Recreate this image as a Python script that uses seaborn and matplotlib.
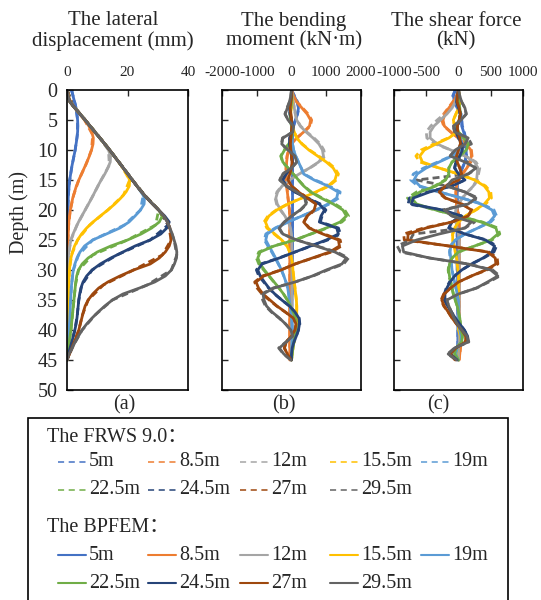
import matplotlib
matplotlib.use("Agg")
import matplotlib.pyplot as plt
from matplotlib.lines import Line2D
from matplotlib.patches import Rectangle
import seaborn as sns

# excavation depth of each case and the Excel colours used for it
cases = ["5m", "8.5m", "12m", "15.5m", "19m", "22.5m", "24.5m", "27m", "29.5m"]
colors = ["#4472C4", "#ED7D31", "#A5A5A5", "#FFC000", "#5B9BD5",
          "#70AD47", "#264478", "#9E480E", "#636363"]

# ---- BPFEM (solid), read every 1 m of depth ----
depth = list(range(0, 46))

# lateral displacement (mm)
disp_5 = [1.5, 2.0, 2.5, 3.0, 3.3, 3.5, 3.6, 3.5, 3.3, 3.0,
          2.7, 2.3, 1.9, 1.5, 1.2, 0.9, 0.7, 0.5, 0.4, 0.3,
          0.3, 0.2, 0.2, 0.2, 0.2, 0.1, 0.1, 0.1, 0.1, 0.1,
          0.1, 0.1, 0.1, 0.1, 0.1, 0.1, 0.1, 0.1, 0.1, 0.1,
          0.1, 0.1, 0.0, 0.0, 0.0, 0.0]
disp_8_5 = [0.0, 0.5, 1.2, 2.6, 4.2, 5.8, 7.2, 8.2, 8.7, 8.6,
            8.1, 7.4, 6.6, 5.7, 4.8, 3.9, 3.1, 2.5, 1.9, 1.5,
            1.1, 0.8, 0.6, 0.5, 0.4, 0.3, 0.3, 0.2, 0.2, 0.2,
            0.1, 0.1, 0.1, 0.1, 0.1, 0.1, 0.1, 0.1, 0.1, 0.0,
            0.0, 0.0, 0.0, 0.0, 0.0, 0.0]
disp_12 = [0.0, 0.3, 1.0, 2.6, 4.3, 6.0, 7.6, 9.2, 10.9, 12.4,
           13.7, 14.4, 14.3, 13.5, 12.5, 11.3, 10.2, 9.2, 8.2, 7.1,
           6.0, 4.9, 3.8, 2.9, 2.0, 1.3, 0.9, 0.6, 0.4, 0.3,
           0.2, 0.2, 0.1, 0.1, 0.1, 0.1, 0.1, 0.1, 0.1, 0.1,
           0.1, 0.0, 0.0, 0.0, 0.0, 0.0]
disp_15_5 = [0.0, 0.3, 1.0, 2.6, 4.3, 6.0, 7.6, 9.2, 10.9, 12.5,
             14.1, 15.6, 17.1, 18.5, 19.8, 20.7, 20.6, 19.5, 17.8, 15.8,
             13.5, 11.0, 8.6, 6.5, 4.8, 3.5, 2.5, 1.8, 1.3, 1.0,
             0.8, 0.7, 0.6, 0.5, 0.5, 0.4, 0.4, 0.3, 0.3, 0.3,
             0.2, 0.2, 0.1, 0.1, 0.0, 0.0]
disp_19 = [0.0, 0.3, 1.0, 2.6, 4.3, 6.0, 7.6, 9.2, 10.9, 12.5,
           14.1, 15.6, 17.1, 18.6, 20.1, 21.6, 23.1, 24.6, 25.6, 25.5,
           24.3, 22.5, 20.5, 17.5, 13.0, 8.5, 5.8, 4.3, 3.3, 2.6,
           2.1, 1.8, 1.6, 1.4, 1.3, 1.2, 1.1, 1.0, 0.9, 0.8,
           0.7, 0.5, 0.4, 0.2, 0.1, 0.0]
disp_22_5 = [0.0, 0.3, 1.0, 2.6, 4.3, 6.0, 7.6, 9.2, 10.9, 12.5,
             14.1, 15.6, 17.1, 18.6, 20.1, 21.6, 23.1, 24.7, 26.4, 28.3,
             30.3, 31.5, 30.5, 28.0, 24.5, 20.0, 14.5, 10.0, 7.0, 5.0,
             3.8, 3.2, 2.9, 2.7, 2.5, 2.3, 2.1, 1.9, 1.7, 1.5,
             1.3, 1.0, 0.7, 0.4, 0.2, 0.0]
disp_24_5 = [0.0, 0.3, 1.0, 2.6, 4.3, 6.0, 7.6, 9.2, 10.9, 12.5,
             14.1, 15.6, 17.1, 18.6, 20.1, 21.6, 23.1, 24.7, 26.4, 28.3,
             30.3, 32.3, 33.8, 33.0, 31.0, 27.5, 22.5, 18.5, 14.5, 11.0,
             8.3, 6.5, 5.3, 4.6, 4.2, 3.9, 3.7, 3.5, 3.3, 3.0,
             2.6, 2.1, 1.6, 1.0, 0.5, 0.0]
disp_27 = [0.0, 0.3, 1.0, 2.6, 4.3, 6.0, 7.6, 9.2, 10.9, 12.5,
           14.1, 15.6, 17.1, 18.6, 20.1, 21.6, 23.1, 24.7, 26.4, 28.3,
           30.3, 32.0, 33.2, 34.0, 34.5, 34.4, 33.8, 32.5, 30.5, 27.5,
           22.0, 17.5, 13.5, 10.5, 8.5, 7.0, 6.0, 5.4, 4.9, 4.4,
           3.9, 3.2, 2.4, 1.6, 0.8, 0.0]
disp_29_5 = [0.0, 0.3, 1.0, 2.6, 4.3, 6.0, 7.6, 9.2, 10.9, 12.5,
             14.1, 15.6, 17.1, 18.6, 20.1, 21.6, 23.1, 24.7, 26.4, 28.3,
             30.3, 32.0, 33.2, 34.0, 34.8, 35.4, 36.0, 36.3, 36.2, 35.5,
             34.5, 32.5, 29.0, 24.0, 18.5, 15.0, 12.5, 10.3, 8.3, 6.5,
             5.0, 3.8, 2.7, 1.7, 0.7, 0.0]

# bending moment (kN·m)
bm_5 = [0, 80, 160, 200, 170, 110, 60, 40, 30, 30,
        30, 30, 30, 30, 30, 30, 30, 30, 30, 30,
        30, 30, 30, 30, 30, 30, 30, 20, 20, 20,
        20, 20, 20, 20, 20, 10, 10, 10, 10, 10,
        10, 10, 0, 0, 0, 0]
bm_8_5 = [0, 60, 150, 300, 450, 550, 520, 350, 150, 0,
          -80, -120, -140, -150, -150, -140, -130, -120, -100, -80,
          -60, -50, -50, -50, -50, -50, -50, -50, -50, -50,
          -50, -50, -50, -50, -50, -50, -50, -50, -50, -50,
          -50, -50, -50, -50, -50, -50]
bm_12 = [0, 20, 50, 80, 110, 150, 250, 420, 620, 790,
         890, 920, 780, 520, 220, -60, -270, -400, -450, -410,
         -310, -190, -90, -30, 0, 10, 10, 10, 10, 10,
         10, 10, 10, 10, 10, 10, 10, 10, 10, 10,
         10, 0, 0, 0, 0, 0]
bm_15_5 = [0, 10, 20, 0, -30, -20, 20, 80, 150, 300,
           500, 750, 1000, 1200, 1300, 1250, 1050, 700, 300, -100,
           -420, -650, -750, -680, -480, -280, -130, -50, 0, 30,
           40, 60, 80, 100, 120, 140, 150, 150, 150, 140,
           120, 100, 70, 40, 20, 0]
bm_19 = [0, 10, 0, -30, -40, -20, 0, 10, 20, 30,
         60, 120, 200, 280, 350, 650, 1050, 1340, 1300, 1050,
         700, 300, -100, -450, -700, -740, -650, -550, -460, -370,
         -290, -220, -160, -110, -80, -60, -40, -20, 0, 10,
         20, 20, 20, 10, 10, 0]
bm_22_5 = [0, 10, 0, -20, -40, -30, 0, 20, 0, -80,
           -200, -300, -250, -100, 50, 200, 350, 550, 850, 1200,
           1480, 1580, 1400, 1000, 550, 100, -500, -900, -970, -900,
           -780, -640, -500, -360, -230, -120, -30, 50, 110, 140,
           130, 100, 70, 40, 20, 0]
bm_24_5 = [0, 0, -30, -60, -40, 0, 30, 0, -50, -60,
           -30, 0, 30, 0, -150, -250, -150, 100, 450, 800,
           950, 850, 800, 1300, 1350, 1000, 550, 100, -350, -850,
           -970, -900, -780, -650, -480, -280, -60, 100, 210, 230,
           200, 140, 70, 20, 0, 0]
bm_27 = [0, 0, -20, -40, -20, 0, 10, 0, -20, -30,
         -20, 0, 20, 0, -50, -100, 0, 200, 450, 700,
         650, 450, 350, 500, 900, 1350, 1380, 1100, 600, 100,
         -300, -800, -1020, -950, -820, -620, -420, -180, 50, 130,
         100, 0, -150, -200, -120, -10]
bm_29_5 = [0, -20, -60, -120, -180, -100, 60, 40, -250, -280,
           -100, 100, 150, 0, -250, -330, -150, 150, 380, 420,
           250, 0, -200, -350, -250, 150, 700, 1250, 1580, 1450,
           1000, 600, 100, -500, -820, -790, -720, -560, -350, -170,
           -20, 40, -150, -350, -220, -20]

# shear force (kN)
sf_5 = [-50, -80, -60, -20, 30, 50, 50, 80, 100, 110,
        120, 120, 100, 60, 20, 0, -20, -20, -20, -20,
        -20, -20, -20, -20, -20, -20, -20, -20, -20, -20,
        -20, -10, -10, -10, -10, -10, -10, -10, -10, -10,
        -10, -10, -10, -10, -10, 0]
sf_8_5 = [0, -30, -80, -150, -210, -240, -220, -120, 0, 120,
          190, 200, 180, 130, 60, 0, -30, -40, -40, -30,
          -20, 10, 10, 10, 10, 10, 10, 10, 10, 10,
          10, 10, 10, 10, 10, 10, 10, 10, 10, 10,
          20, 30, 40, 30, 20, 10]
sf_12 = [0, -20, -50, -100, -180, -280, -380, -440, -440, -330,
         -120, 100, 250, 300, 290, 280, 230, 140, 60, 0,
         -40, -50, -40, -20, 0, 10, 10, 10, 10, 10,
         10, 10, 10, 10, 10, 10, 10, 10, 10, 10,
         10, 10, 10, 0, 0, 0]
sf_15_5 = [0, 10, 20, 0, -40, -80, -60, -20, -150, -350,
           -530, -600, -560, -300, 0, 250, 400, 470, 480, 400,
           260, 110, 0, -60, -90, -90, -70, -50, -30, -20,
           -10, 0, 0, 0, 0, 0, 0, 0, 0, 0,
           0, 30, 40, -20, -30, 0]
sf_19 = [0, -20, -30, 0, 40, 20, -30, -20, 30, 60,
         20, -100, -300, -500, -640, -690, -600, -300, 50, 350,
         520, 560, 480, 300, 100, -50, -120, -130, -120, -110,
         -100, -80, -60, -40, -20, 0, 0, 0, 0, 0,
         20, 40, 40, -20, -40, 0]
sf_22_5 = [0, -10, 0, 20, 30, 10, -30, 0, 80, 150,
           120, 20, -100, -150, -150, -200, -350, -600, -730, -650,
           -350, 0, 350, 580, 610, 500, 250, 0, -100, -140,
           -150, -140, -120, -100, -80, -50, -20, 0, 20, 30,
           40, 60, 50, -40, -60, 0]
sf_24_5 = [0, -20, -30, 0, 30, 20, -20, -40, 0, 50,
           60, 20, -40, -60, 0, 100, -100, -450, -700, -730,
           -250, 50, -100, -150, 100, 420, 560, 520, 380, 200,
           50, -60, -130, -180, -210, -210, -170, -110, -50, 20,
           90, 140, 130, -50, -130, -20]
sf_27 = [0, -20, -20, 10, 30, 10, -20, -10, 20, 30,
         0, -30, -20, 20, 50, 0, -200, -300, -200, 50,
         200, 150, -100, -500, -780, -790, -150, 450, 570, 580,
         420, 200, 0, -120, -220, -260, -220, -160, -100, -30,
         50, 110, 110, -40, -130, -50]
sf_29_5 = [0, 20, 50, 100, 120, 40, -80, -60, 150, 100,
           -50, -130, 100, 270, 150, -100, -180, 100, 270, 150,
           -220, -100, 200, 100, -300, -650, -870, -850, -450, 150,
           500, 610, 450, 280, 0, -180, -150, -110, -70, -20,
           50, 130, 150, -60, -160, -30]

# ---- FRWS 9.0 (dashed) ----
# displacement read every 2.5 m, moment and shear every 1 m (same depths as BPFEM)
depth_frws = [0, 2.5, 5, 7.5, 10, 12.5, 15, 17.5, 20, 22.5,
              25, 27.5, 30, 32.5, 35, 37.5, 40, 42.5, 45]

frws_disp_5 = [1.5, 2.8, 3.5, 3.4, 2.7, 1.7, 0.9, 0.45, 0.3, 0.2, 0.1, 0.1, 0.1, 0.1, 0.1, 0.1, 0.1, 0.0, 0.0]
frws_disp_8_5 = [0.0, 1.9, 5.8, 8.5, 8.1, 6.2, 3.9, 2.2, 1.1, 0.55, 0.3, 0.2, 0.1, 0.1, 0.1, 0.1, 0.0, 0.0, 0.0]
frws_disp_12 = [0.0, 1.8, 6.0, 10.1, 13.7, 14.0, 11.3, 8.7, 6.0, 3.3, 1.3, 0.5, 0.2, 0.1, 0.1, 0.1, 0.0, 0.0, 0.0]
frws_disp_15_5 = [0.0, 1.8, 6.0, 10.1, 14.1, 17.8, 20.7, 18.7, 13.5, 7.5, 3.5, 1.5, 0.8, 0.55, 0.4, 0.3, 0.2, 0.1, 0.0]
frws_disp_19 = [0.0, 1.8, 6.0, 10.1, 14.1, 17.9, 21.6, 25.2, 24.3, 19.0, 8.5, 3.8, 2.1, 1.5, 1.2, 0.95, 0.7, 0.3, 0.0]
frws_disp_22_5 = [0.0, 1.8, 6.0, 10.1, 14.1, 17.9, 21.6, 25.6, 30.3, 29.3, 20.0, 8.5, 3.8, 2.8, 2.3, 1.8, 1.3, 0.55, 0.0]
frws_disp_24_5 = [0.0, 1.8, 6.0, 10.1, 14.1, 17.9, 21.6, 25.6, 30.3, 33.4, 27.5, 16.5, 8.3, 4.9, 3.9, 3.4, 2.6, 1.3, 0.0]
frws_disp_27 = [0.0, 1.8, 6.0, 10.1, 14.1, 17.9, 21.6, 25.6, 30.3, 33.6, 34.4, 31.5, 22.0, 12.0, 7.0, 5.1, 3.9, 2.0, 0.0]
frws_disp_29_5 = [0.0, 1.8, 6.0, 10.1, 14.1, 17.9, 21.6, 25.6, 30.3, 33.6, 35.4, 36.3, 34.5, 26.5, 15.0, 9.3, 5.0, 2.2, 0.0]

frws_bm_5 = [0, 90, 175, 210, 175, 110, 60, 40, 30, 30,
             30, 30, 30, 30, 30, 30, 30, 30, 30, 30,
             30, 30, 30, 30, 30, 30, 30, 20, 20, 20,
             20, 20, 20, 20, 20, 10, 10, 10, 10, 10,
             10, 10, 0, 0, 0, 0]
frws_bm_8_5 = [0, 60, 160, 320, 480, 580, 540, 360, 150, 0,
               -80, -130, -150, -160, -160, -150, -140, -120, -100, -80,
               -60, -50, -50, -50, -50, -50, -50, -50, -50, -50,
               -50, -50, -50, -50, -50, -50, -50, -50, -50, -50,
               -50, -50, -50, -50, -50, -50]
frws_bm_12 = [0, 20, 50, 80, 110, 160, 260, 440, 650, 830,
              930, 960, 800, 530, 220, -60, -280, -420, -470, -430,
              -320, -190, -90, -30, 0, 10, 10, 10, 10, 10,
              10, 10, 10, 10, 10, 10, 10, 10, 10, 10,
              10, 0, 0, 0, 0, 0]
frws_bm_15_5 = [0, 10, 20, 0, -30, -20, 20, 80, 160, 310,
                520, 780, 1040, 1240, 1350, 1290, 1080, 720, 300, -110,
                -440, -680, -790, -710, -500, -290, -130, -50, 0, 30,
                40, 60, 80, 100, 120, 140, 150, 150, 150, 140,
                120, 100, 70, 40, 20, 0]
frws_bm_19 = [0, 10, 0, -30, -40, -20, 0, 10, 20, 30,
              60, 120, 200, 280, 360, 680, 1090, 1400, 1360, 1090,
              720, 300, -110, -470, -740, -780, -680, -570, -470, -380,
              -290, -220, -160, -110, -80, -60, -40, -20, 0, 10,
              20, 20, 20, 10, 10, 0]
frws_bm_22_5 = [0, 10, 0, -20, -40, -30, 0, 20, 0, -80,
                -210, -310, -260, -100, 50, 200, 360, 570, 880, 1250,
                1530, 1640, 1450, 1030, 560, 100, -520, -940, -1010, -940,
                -800, -650, -510, -360, -230, -120, -30, 50, 110, 140,
                130, 100, 70, 40, 20, 0]
frws_bm_24_5 = [0, 0, -30, -60, -40, 0, 30, 0, -50, -60,
                -30, 0, 30, 0, -160, -260, -150, 100, 470, 830,
                990, 880, 830, 1350, 1410, 1040, 570, 100, -360, -890,
                -1010, -940, -800, -660, -490, -280, -60, 100, 220, 240,
                200, 140, 70, 20, 0, 0]
frws_bm_27 = [0, 0, -20, -40, -20, 0, 10, 0, -20, -30,
              -20, 0, 20, 0, -50, -100, 0, 210, 470, 730,
              680, 460, 360, 520, 940, 1400, 1440, 1150, 620, 100,
              -310, -840, -1060, -990, -850, -640, -430, -180, 50, 130,
              100, 0, -160, -210, -120, -10]
frws_bm_29_5 = [0, -20, -60, -130, -190, -100, 60, 40, -260, -290,
                -100, 100, 160, 0, -260, -340, -150, 160, 400, 440,
                260, 0, -210, -370, -260, 160, 730, 1300, 1640, 1500,
                1040, 620, 100, -530, -860, -830, -750, -580, -360, -170,
                -20, 40, -160, -370, -230, -20]

frws_sf_5 = [-50, -90, -70, -20, 30, 50, 60, 90, 110, 120,
             130, 120, 100, 60, 20, 0, -20, -20, -20, -20,
             -20, -20, -20, -20, -20, -20, -20, -20, -20, -20,
             -20, -10, -10, -10, -10, -10, -10, -10, -10, -10,
             -10, -10, -10, -10, -10, 0]
frws_sf_8_5 = [0, -30, -90, -160, -230, -260, -230, -120, 0, 130,
               200, 210, 190, 130, 60, 0, -30, -40, -40, -30,
               -20, 10, 10, 10, 10, 10, 10, 10, 10, 10,
               10, 10, 10, 10, 10, 10, 10, 10, 10, 10,
               20, 30, 40, 30, 20, 10]
frws_sf_12 = [0, -20, -60, -120, -220, -330, -430, -500, -490, -360,
              -120, 110, 270, 330, 310, 290, 240, 140, 60, 0,
              -40, -50, -40, -20, 0, 10, 10, 10, 10, 10,
              10, 10, 10, 10, 10, 10, 10, 10, 10, 10,
              10, 10, 10, 0, 0, 0]
frws_sf_15_5 = [0, 10, 20, 0, -40, -80, -60, -20, -160, -380,
                -580, -660, -600, -300, 0, 260, 420, 500, 510, 420,
                270, 110, 0, -60, -90, -90, -70, -50, -30, -20,
                -10, 0, 0, 0, 0, 0, 0, 0, 0, 0,
                0, 30, 40, -20, -30, 0]
frws_sf_19 = [0, -20, -30, 0, 40, 20, -30, -20, 30, 60,
              20, -110, -320, -540, -700, -740, -630, -300, 50, 370,
              550, 590, 500, 300, 100, -50, -130, -140, -130, -110,
              -100, -80, -60, -40, -20, 0, 0, 0, 0, 0,
              20, 40, 40, -20, -40, 0]
frws_sf_22_5 = [0, -10, 0, 20, 30, 10, -30, 0, 80, 150,
                120, 20, -100, -150, -160, -210, -370, -650, -790, -700,
                -360, 0, 370, 610, 640, 520, 250, 0, -100, -150,
                -160, -150, -120, -100, -80, -50, -20, 0, 20, 30,
                40, 60, 50, -40, -60, 0]
frws_sf_24_5 = [0, -20, -30, 0, 30, 20, -20, -40, 0, 50,
                60, 20, -40, -60, 0, 100, -110, -480, -760, -780,
                -260, 50, -100, -150, 100, 440, 590, 550, 390, 200,
                50, -60, -140, -190, -220, -220, -170, -110, -50, 20,
                90, 140, 130, -50, -130, -20]
frws_sf_27 = [0, -20, -20, 10, 30, 10, -20, -10, 20, 30,
              0, -30, -20, 20, 50, 0, -210, -320, -210, 50,
              210, 150, -100, -540, -850, -840, -150, 470, 600, 610,
              440, 200, 0, -130, -230, -270, -230, -160, -100, -30,
              50, 110, 110, -40, -130, -50]
frws_sf_29_5 = [0, 20, 50, 100, 120, 40, -80, -60, 150, 200,
                -50, -130, 150, 300, 150, -650, -180, 100, 300, 150,
                -250, -100, 250, 100, -700, -750, -950, -900, -450, 150,
                530, 640, 470, 280, 0, -190, -150, -110, -70, -20,
                50, 140, 160, -60, -170, -30]

bpfem_disp = [disp_5, disp_8_5, disp_12, disp_15_5, disp_19, disp_22_5, disp_24_5, disp_27, disp_29_5]
bpfem_bm = [bm_5, bm_8_5, bm_12, bm_15_5, bm_19, bm_22_5, bm_24_5, bm_27, bm_29_5]
bpfem_sf = [sf_5, sf_8_5, sf_12, sf_15_5, sf_19, sf_22_5, sf_24_5, sf_27, sf_29_5]
frws_disp = [frws_disp_5, frws_disp_8_5, frws_disp_12, frws_disp_15_5, frws_disp_19,
             frws_disp_22_5, frws_disp_24_5, frws_disp_27, frws_disp_29_5]
frws_bm = [frws_bm_5, frws_bm_8_5, frws_bm_12, frws_bm_15_5, frws_bm_19,
           frws_bm_22_5, frws_bm_24_5, frws_bm_27, frws_bm_29_5]
frws_sf = [frws_sf_5, frws_sf_8_5, frws_sf_12, frws_sf_15_5, frws_sf_19,
           frws_sf_22_5, frws_sf_24_5, frws_sf_27, frws_sf_29_5]

sns.set_theme(style="ticks")
plt.rcParams["font.family"] = ["Liberation Serif", "Noto Sans CJK SC"]
plt.rcParams["axes.unicode_minus"] = False

W, H = 541, 600
fig = plt.figure(figsize=(W / 100, H / 100), dpi=100)


def box(x0, x1, y0, y1):
    # pixel box -> figure fraction
    return [x0 / W, 1 - y1 / H, (x1 - x0) / W, (y1 - y0) / H]


ax_a = fig.add_axes(box(67, 188, 90, 390))
ax_b = fig.add_axes(box(222, 361, 90, 390))
ax_c = fig.add_axes(box(394, 523, 90, 390))

panels = [
    (ax_a, depth_frws, frws_disp, bpfem_disp, (0, 40), [0, 20, 40]),
    (ax_b, depth, frws_bm, bpfem_bm, (-2000, 2000), [-2000, -1000, 0, 1000, 2000]),
    (ax_c, depth, frws_sf, bpfem_sf, (-1000, 1000), [-1000, -500, 0, 500, 1000]),
]

for ax, dfrws, frws, bpfem, xlim, xticks in panels:
    for vals, col in zip(frws, colors):
        sns.lineplot(x=vals, y=dfrws, ax=ax, color=col, lw=2.0,
                     ls=(0, (2.5, 1.5)), sort=False, estimator=None, orient="y")
    for vals, col in zip(bpfem, colors):
        sns.lineplot(x=vals, y=depth, ax=ax, color=col, lw=2.0,
                     sort=False, estimator=None, orient="y")
    ax.set_xlim(*xlim)
    ax.set_ylim(50, 0)
    ax.set_xticks(xticks)
    ax.set_yticks(range(0, 51, 5))
    ax.xaxis.tick_top()
    ax.tick_params(axis="x", direction="in", length=4, width=1, pad=8,
                   labelsize=11, top=True, bottom=False)
    ax.tick_params(axis="y", direction="in", length=4, width=1, pad=7,
                   labelsize=14.5)
    ax.set_xlabel("")
    ax.set_ylabel("")
    for s in ax.spines.values():
        s.set_linewidth(1.2)
        s.set_color("black")

ax_b.tick_params(axis="y", labelleft=False)
ax_c.tick_params(axis="y", labelleft=False)

ax_a.set_ylabel("Depth (m)", fontsize=14.5)
ax_a.yaxis.set_label_coords(-0.31, 0.593)

# panel titles
fig.text(113 / W, 1 - 31 / H, "The lateral\ndisplacement (mm)", ha="center", va="center",
         fontsize=15, linespacing=1.05)
fig.text(294 / W, 1 - 31 / H, "The bending\nmoment (kN·m)", ha="center", va="center",
         fontsize=15, linespacing=1.05)
fig.text(456 / W, 1 - 31 / H, "The shear force\n(kN)", ha="center", va="center",
         fontsize=15, linespacing=1.05)

for x, lab in ((124, "(a)"), (284, "(b)"), (438, "(c)")):
    fig.text(x / W, 1 - 405 / H, lab, ha="center", va="center", fontsize=14.5)

# legend box, running off the bottom of the figure
fig.add_artist(Rectangle((28 / W, -0.05), 480 / W, 182 / H + 0.05,
                         transform=fig.transFigure, fill=False, lw=1.2, ec="black"))
fig.text(47 / W, 1 - 437 / H, "The FRWS 9.0：", va="center", fontsize=14.5)
fig.text(47 / W, 1 - 527 / H, "The BPFEM：", va="center", fontsize=14.5)

col_x = [58, 148, 240, 330, 421]
for k, (name, col) in enumerate(zip(cases, colors)):
    r, c = divmod(k, 5)
    x0 = col_x[c]
    for y, ls, lw in ((462 + 28 * r, (0, (4, 3)), 1.1), (555 + 28 * r, "-", 1.5)):
        fig.add_artist(Line2D([x0 / W, (x0 + 28) / W], [1 - y / H, 1 - y / H],
                              color=col, lw=lw, ls=ls, transform=fig.transFigure))
        fig.text((x0 + 31) / W, 1 - y / H, name, va="center", fontsize=14.5)

fig.savefig("out.png", dpi=100)
